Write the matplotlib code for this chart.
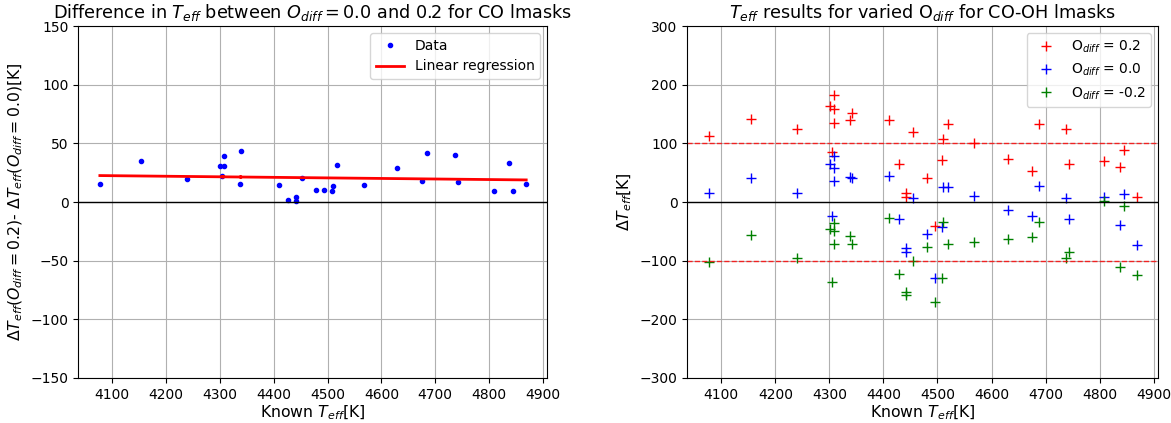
import numpy as np
import matplotlib
matplotlib.use("Agg")
import matplotlib.pyplot as plt


# ==========================================
# Data
# ==========================================

# CO lmasks: Teff(Odiff=0.2) - Teff(Odiff=0.0)
teff_co = [4077, 4154, 4239, 4301, 4307, 4307, 4304, 4340, 4337, 4409,
           4427, 4441, 4441, 4453, 4479, 4494, 4508, 4510, 4518, 4567,
           4629, 4675, 4685, 4737, 4742, 4809, 4837, 4844, 4869]
diff_co = [15.4, 35.2, 19.7, 31.1, 39.1, 30.3, 22.0, 43.1, 15.4, 14.8,
           2.0, 4.0, 0.9, 20.3, 10.0, 10.5, 9.1, 14.0, 31.7, 14.8,
           28.6, 18.0, 41.4, 40.0, 17.2, 9.1, 33.4, 9.7, 15.4]

# CO-OH lmasks: Delta Teff for each Odiff
teff_cooh = [4077, 4155, 4240, 4302, 4308, 4308, 4308, 4304, 4338, 4342,
             4411, 4428, 4442, 4442, 4455, 4480, 4495, 4509, 4511, 4519,
             4568, 4630, 4675, 4687, 4738, 4743, 4809, 4838, 4845, 4870]
dt_p02 = [112, 141, 124, 163, 182, 159, 135, 85, 140, 151,
          140, 65, 15, 9, 120, 41, -41, 72, 108, 133,
          100, 73, 52, 133, 125, 65, 70, 59, 89, 8]
dt_00 = [15, 41, 15, 64, 79, 58, 36, -24, 43, 41,
         45, -29, -78, -86, 6, -55, -130, -42, 25, 26,
         10, -13, -24, 28, 6, -29, 9, -39, 13, -73]
dt_m02 = [-102, -56, -96, -46, -35, -50, -71, -137, -58, -71,
          -27, -123, -153, -159, -101, -77, -170, -130, -34, -72,
          -68, -63, -60, -34, -96, -85, 2, -110, -7.5, -125]


# ==========================================
# Figure
# ==========================================

fig = plt.figure(figsize=(11.71, 4.23), dpi=100)

ax1 = fig.add_axes([0.0669, 0.1064, 0.4004, 0.8321])
ax2 = fig.add_axes([0.5869, 0.1064, 0.4020, 0.8321])


# ==========================================
# Left: difference with linear regression
# ==========================================

x = np.array(teff_co)
y = np.array(diff_co)
slope, intercept = np.polyfit(x, y, 1)

ax1.plot(x, y, ".", color="blue", markersize=6, label="Data")
ax1.plot(x, slope * x + intercept, color="red", linewidth=2,
         label="Linear regression")
ax1.axhline(0, color="black", linewidth=1)

ax1.set_ylim(-150, 150)
ax1.set_xlim(4037, 4908)
ax1.set_title(r"Difference in $T_{eff}$ between $O_{diff} = 0.0$ and 0.2 for CO lmasks",
              fontsize=12.7)
ax1.set_xlabel(r"Known $T_{eff}$[K]", fontsize=11.3, labelpad=1)
ax1.set_ylabel(r"$\Delta T_{eff} (O_{diff} = 0.2)$- $\Delta T_{eff} (O_{diff} = 0.0)$[K]",
               fontsize=11.3)
ax1.grid(True)
ax1.legend(loc="upper right", fontsize=10)


# ==========================================
# Right: Delta Teff for varied Odiff
# ==========================================

ax2.plot(teff_cooh, dt_p02, "+", color="red", markersize=7,
         label=r"O$_{diff}$ = 0.2")
ax2.plot(teff_cooh, dt_00, "+", color="blue", markersize=7,
         label=r"O$_{diff}$ = 0.0")
ax2.plot(teff_cooh, dt_m02, "+", color="green", markersize=7,
         label=r"O$_{diff}$ = -0.2")
ax2.axhline(0, color="black", linewidth=1)
ax2.axhline(100, color="red", linestyle="--", linewidth=1, alpha=0.8)
ax2.axhline(-100, color="red", linestyle="--", linewidth=1, alpha=0.8)

ax2.set_ylim(-300, 300)
ax2.set_xlim(4037, 4908)
ax2.set_title(r"$T_{eff}$ results for varied O$_{diff}$ for CO-OH lmasks",
              fontsize=12.7)
ax2.set_xlabel(r"Known $T_{eff}$[K]", fontsize=11.3, labelpad=1)
ax2.set_ylabel(r"$\Delta T_{eff}$[K]", fontsize=11.3)
ax2.grid(True)
ax2.legend(loc="upper right", fontsize=10)


fig.savefig("out.png", dpi=100)
